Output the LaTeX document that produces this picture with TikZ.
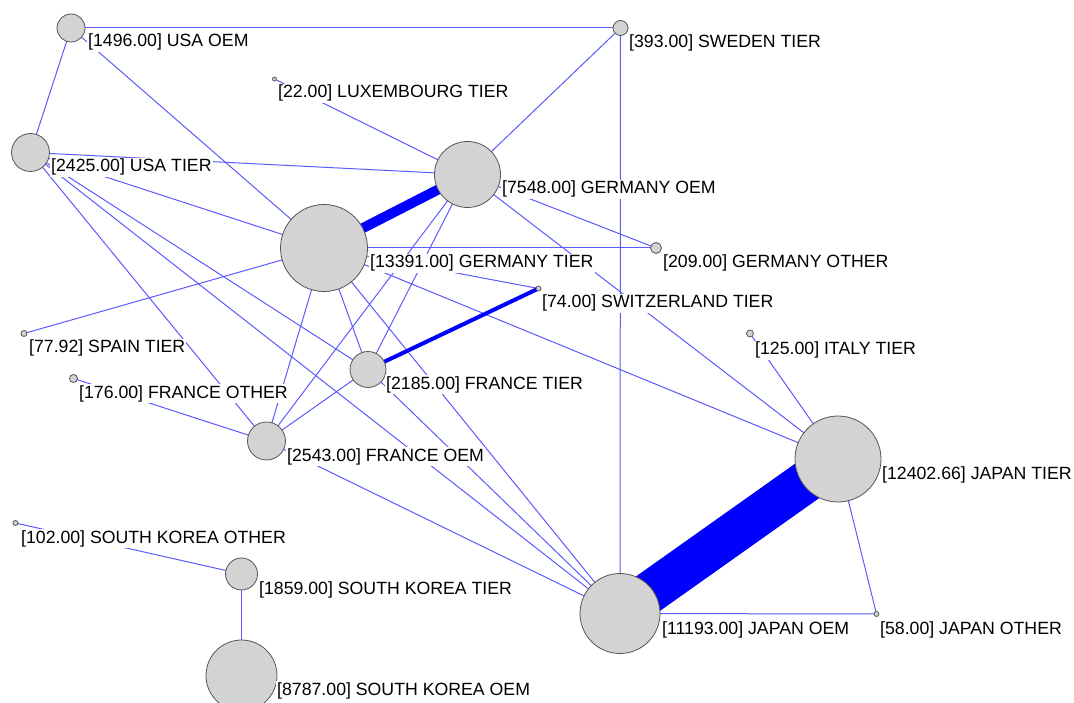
\documentclass[tikz,border=0pt]{standalone}
\usepackage{fontspec}
\setmainfont{Liberation Sans}
\usetikzlibrary{backgrounds}
\definecolor{linkblue}{RGB}{90,90,255}
\definecolor{nodegray}{RGB}{211,211,211}
\definecolor{rimgray}{RGB}{85,85,85}
\tikzset{
  firm/.style={circle, draw=rimgray, fill=nodegray, line width=0.8pt,
    inner sep=0pt, minimum size=#1},
  tag/.style={anchor=base west, fill=white, inner sep=1pt,
    font=\fontsize{17.7}{20}\selectfont},
  link/.style={linkblue, line width=1pt},
  flow/.style={blue, line width=#1},
}
\begin{document}
\begin{tikzpicture}[x=1pt, y=-1pt]
  \useasboundingbox (0,0) rectangle (1074,703);
  % firms
  \node [firm=28] (usaoem)   at (71,28)   {};
  \node [firm=15] (swe)      at (620.5,28) {};
  \node [firm=4]  (lux)      at (274.5,79) {};
  \node [firm=38] (usatier)  at (30.5,152.5) {};
  \node [firm=66] (geroem)   at (467.5,174.5) {};
  \node [firm=87] (gertier)  at (324,248) {};
  \node [firm=11] (gerother) at (656,248) {};
  \node [firm=5]  (swi)      at (538.5,288.5) {};
  \node [firm=6]  (spain)    at (24,333.5) {};
  \node [firm=7]  (italy)    at (750,333.5) {};
  \node [firm=8]  (fraother) at (73.5,378.5) {};
  \node [firm=36] (fratier)  at (368,369.5) {};
  \node [firm=38] (fraoem)   at (266.5,441) {};
  \node [firm=86] (jptier)   at (838,459) {};
  \node [firm=5]  (skother)  at (15.5,523) {};
  \node [firm=32] (sktier)   at (241.5,574) {};
  \node [firm=80] (jpoem)    at (620,613.5) {};
  \node [firm=5]  (jpother)  at (876.5,614) {};
  \node [firm=71] (skoem)    at (241.5,675.5) {};

  % links, behind the firms
  \begin{pgfonlayer}{background}
    \draw [link] (usaoem.center) -- (swe.center);
    \draw [link] (usaoem.center) -- (usatier.center);
    \draw [link] (usaoem.center) -- (gertier.center);
    \draw [link] (lux.center) -- (geroem.center);
    \draw [link] (usatier.center) -- (geroem.center);
    \draw [link] (usatier.center) -- (gertier.center);
    \draw [link] (usatier.center) -- (fraoem.center);
    \draw [link] (usatier.center) -- (fratier.center);
    \draw [link] (usatier.center) -- (jpoem.center);
    \draw [link] (spain.center) -- (gertier.center);
    \draw [link] (swe.center) -- (geroem.center);
    \draw [link] (swe.center) -- (jpoem.center);
    \draw [link] (gertier.center) -- (gerother.center);
    \draw [link] (geroem.center) -- (gerother.center);
    \draw [link] (geroem.center) -- (jptier.center);
    \draw [link] (geroem.center) -- (fraoem.center);
    \draw [link] (geroem.center) -- (fratier.center);
    \draw [link] (gertier.center) -- (swi.center);
    \draw [link] (gertier.center) -- (jptier.center);
    \draw [link] (gertier.center) -- (fratier.center);
    \draw [link] (gertier.center) -- (fraoem.center);
    \draw [link] (gertier.center) -- (jpoem.center);
    \draw [link] (fraoem.center) -- (fraother.center);
    \draw [link] (fraoem.center) -- (fratier.center);
    \draw [link] (fraoem.center) -- (jpoem.center);
    \draw [link] (fratier.center) -- (jpoem.center);
    \draw [link] (jpoem.center) -- (jpother.center);
    \draw [link] (jptier.center) -- (jpother.center);
    \draw [link] (italy.center) -- (jptier.center);
    \draw [link] (skother.center) -- (sktier.center);
    \draw [link] (sktier.center) -- (skoem.center);
    % heavy flows
    \draw [flow=10pt] (gertier.center) -- (geroem.center);
    \draw [flow=4pt]  (fratier.center) -- (swi.center);
    \draw [flow=42pt] (jpoem.center) -- (jptier.center);
  \end{pgfonlayer}

  % labels
  \node [tag] (usaoem-l)   at (87,47)   {[1496.00] USA OEM};
  \node [tag] (swe-l)      at (628,48)  {[393.00] SWEDEN TIER};
  \node [tag] (lux-l)      at (277,98)  {[22.00] LUXEMBOURG TIER};
  \node [tag] (usatier-l)  at (50,172)  {[2425.00] USA TIER};
  \node [tag] (geroem-l)   at (501,194) {[7548.00] GERMANY OEM};
  \node [tag] (gertier-l)  at (369,268) {[13391.00] GERMANY TIER};
  \node [tag] (gerother-l) at (662,268) {[209.00] GERMANY OTHER};
  \node [tag] (swi-l)      at (541,308) {[74.00] SWITZERLAND TIER};
  \node [tag] (spain-l)    at (28,353)  {[77.92] SPAIN TIER};
  \node [tag] (italy-l)    at (754,355) {[125.00] ITALY TIER};
  \node [tag] (fraother-l) at (78,398)  {[176.00] FRANCE OTHER};
  \node [tag] (fratier-l)  at (385,389) {[2185.00] FRANCE TIER};
  \node [tag] (fraoem-l)   at (286,461) {[2543.00] FRANCE OEM};
  \node [tag] (jptier-l)   at (881,479) {[12402.66] JAPAN TIER};
  \node [tag] (skother-l)  at (20,543)  {[102.00] SOUTH KOREA OTHER};
  \node [tag] (sktier-l)   at (258,594) {[1859.00] SOUTH KOREA TIER};
  \node [tag] (jpoem-l)    at (661,634) {[11193.00] JAPAN OEM};
  \node [tag] (jpother-l)  at (879,634) {[58.00] JAPAN OTHER};
  \node [tag] (skoem-l)    at (276,695) {[8787.00] SOUTH KOREA OEM};
\end{tikzpicture}
\end{document}
